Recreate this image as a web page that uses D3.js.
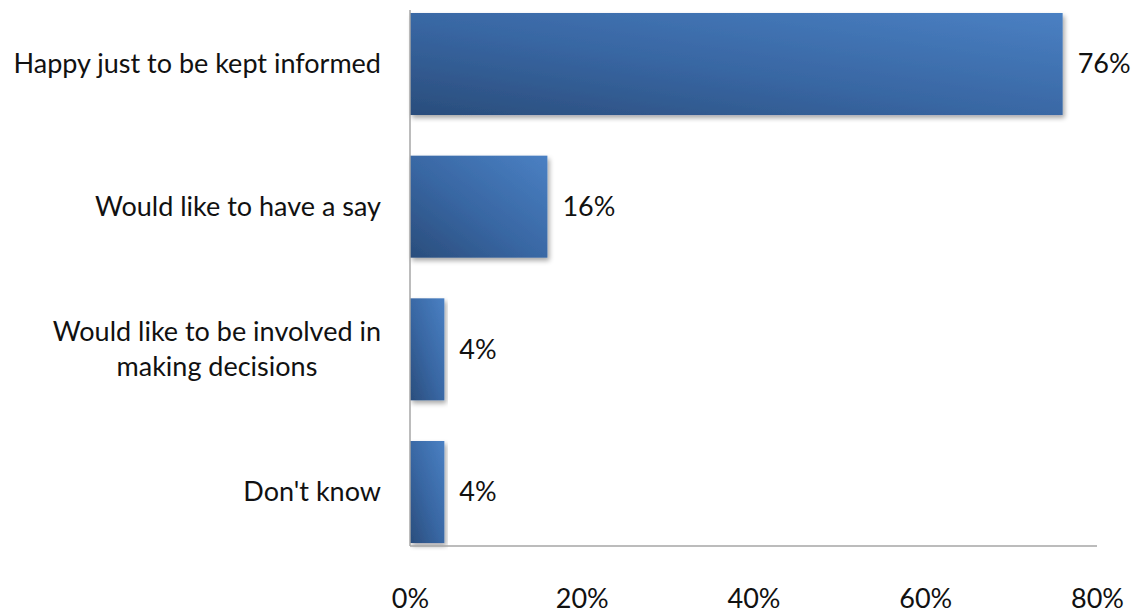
<!DOCTYPE html>
<html>
<head>
<meta charset="utf-8">
<script src="https://cdn.jsdelivr.net/npm/d3@7"></script>
<style>
  html, body { margin: 0; padding: 0; background: #fff; }
  svg { display: block; }
  text { font-family: Lato, "Open Sans", sans-serif; fill: #111; }
</style>
</head>
<body>
<svg id="chart" width="1137" height="613"></svg>
<script>
// Survey responses: preferred level of involvement
const categories = [
  ["Happy just to be kept informed"],
  ["Would like to have a say"],
  ["Would like to be involved in", "making decisions"],
  ["Don't know"]
];
const values = [76, 16, 4, 4];
const tickValues = [0, 20, 40, 60, 80];

const svg = d3.select("#chart");
const plotLeft = 410, plotRight = 1097, plotTop = 10, plotBottom = 546;
const fontSize = 27;

const x = d3.scaleLinear().domain([0, 80]).range([plotLeft, plotRight]);
const keys = categories.map(c => c.join(" "));
const y = d3.scaleBand().domain(keys).range([plotTop, plotBottom])
  .paddingInner(0.285).paddingOuter(0.021);

const defs = svg.append("defs");
const grad = defs.append("linearGradient").attr("id", "barFill")
  .attr("x1", "0").attr("y1", "1").attr("x2", "1").attr("y2", "0");
grad.append("stop").attr("offset", "0%").attr("stop-color", "#2a4d7c");
grad.append("stop").attr("offset", "45%").attr("stop-color", "#3866a2");
grad.append("stop").attr("offset", "100%").attr("stop-color", "#4a80c3");

const shadow = defs.append("filter").attr("id", "shadow")
  .attr("x", "-5%").attr("y", "-5%").attr("width", "115%").attr("height", "125%");
shadow.append("feGaussianBlur").attr("in", "SourceAlpha").attr("stdDeviation", 2.5);
shadow.append("feOffset").attr("dx", 2).attr("dy", 3).attr("result", "off");
shadow.append("feComponentTransfer").append("feFuncA").attr("type", "linear").attr("slope", 0.35);
const merge = shadow.append("feMerge");
merge.append("feMergeNode");
merge.append("feMergeNode").attr("in", "SourceGraphic");

// Bars
svg.append("g").selectAll("rect").data(values).join("rect")
  .attr("x", x(0))
  .attr("y", (d, i) => y(keys[i]))
  .attr("width", d => x(d) - x(0))
  .attr("height", y.bandwidth())
  .attr("fill", "url(#barFill)")
  .attr("filter", "url(#shadow)");

// Value labels
svg.append("g").selectAll("text").data(values).join("text")
  .attr("x", d => x(d) + 15)
  .attr("y", (d, i) => y(keys[i]) + y.bandwidth() / 2)
  .attr("dy", "0.35em")
  .style("font-size", fontSize + "px")
  .text(d => d + "%");

// Axis lines
const axisColor = "#a6a6a6";
svg.append("line").attr("x1", plotLeft).attr("x2", plotLeft).attr("y1", plotTop).attr("y2", plotBottom)
  .attr("stroke", axisColor).attr("stroke-width", 1.5);
svg.append("line").attr("x1", plotLeft).attr("x2", plotRight).attr("y1", plotBottom).attr("y2", plotBottom)
  .attr("stroke", axisColor).attr("stroke-width", 1.5);

// X-axis tick labels
const xAxis = d3.axisBottom(x).tickValues(tickValues).tickFormat(d => d + "%").tickSize(0).tickPadding(0);
const gx = svg.append("g").attr("transform", `translate(0, ${plotBottom})`).call(xAxis);
gx.select(".domain").remove();
gx.selectAll("text").attr("y", 62).attr("dy", "0").style("font-size", fontSize + "px")
  .style("font-family", "Lato, 'Open Sans', sans-serif").attr("fill", "#111");

// Category labels (multi-line centred block, right aligned near the axis)
const labelRight = 381, lineGap = 35;
categories.forEach((lines, i) => {
  const cy = y(keys[i]) + y.bandwidth() / 2;
  const g = svg.append("g");
  const t = g.append("text").style("font-size", fontSize + "px");
  lines.forEach((ln, j) => {
    t.append("tspan").attr("x", 0).attr("y", cy + (j - (lines.length - 1) / 2) * lineGap)
      .attr("dy", "0.35em").attr("text-anchor", "middle").text(ln);
  });
  const w = t.node().getBBox().width;
  g.attr("transform", `translate(${labelRight - w / 2}, 0)`);
});
</script>
</body>
</html>
